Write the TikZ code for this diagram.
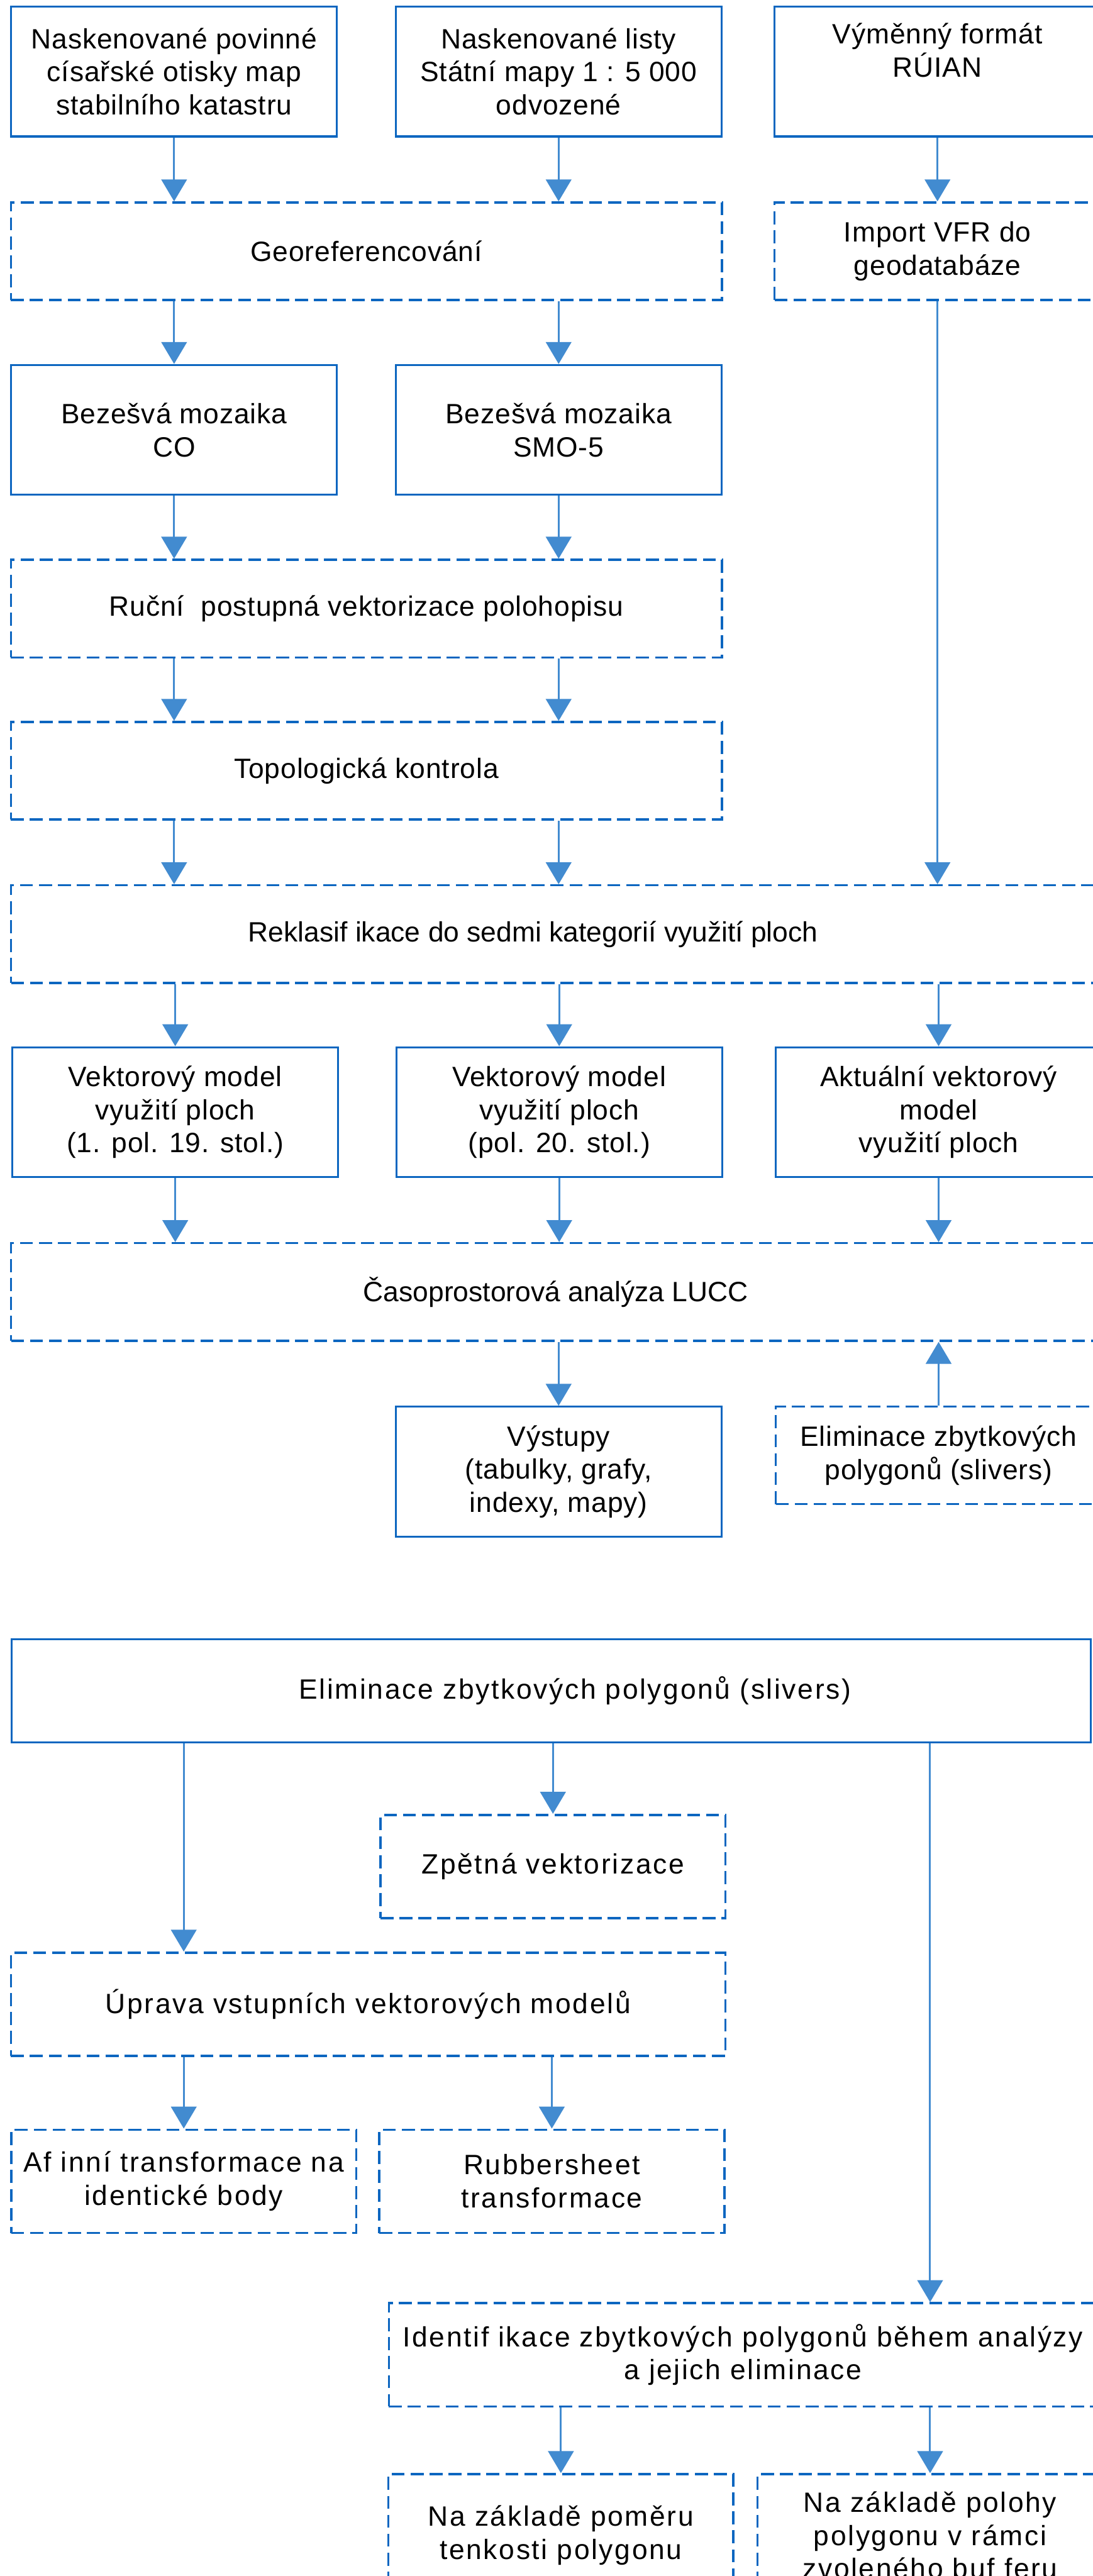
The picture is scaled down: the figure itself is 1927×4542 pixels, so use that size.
\documentclass[tikz,border=0pt]{standalone}
\usepackage{fontspec}
\setmainfont{Liberation Sans}
\newfontfamily\upperfont[LetterSpace=2]{Liberation Sans}
\newfontfamily\lowerfont[LetterSpace=6]{Liberation Sans}
\usetikzlibrary{arrows.meta}

\definecolor{boxblue}{RGB}{12,102,192}
\definecolor{arrowblue}{RGB}{66,139,208}
\newcommand{\boxsize}{\fontsize{14}{16.6}\selectfont}

\tikzset{
    solidbox/.style={draw=boxblue, line width=1pt, inner sep=2pt, align=center, font=\upperfont\boxsize},
    dashbox/.style={solidbox, line width=1.1pt, dash pattern=on 6.5pt off 3pt},
    plaintext/.style={font=\normalfont\boxsize},
    onecol/.style={minimum width=5.74cm},
    twocol/.style={minimum width=12.53cm},
    threecol/.style={minimum width=19.2cm},
    halfcol/.style={minimum width=6.08cm},
    highbox/.style={minimum height=2.29cm},
    flatbox/.style={minimum height=1.72cm},
    midbox/.style={minimum height=1.82cm},
    arr/.style={draw=arrowblue, line width=0.95pt, -{Triangle[length=11pt,width=12.8pt]}},
}

\begin{document}
\begin{tikzpicture}[x=0.01cm, y=-0.01cm]
    \useasboundingbox (0,0) rectangle (1927,4542);
    \clip (0,0) rectangle (1927,4542);

    % --- Upper scheme: sources ---
    \node[solidbox, onecol, highbox] (scan) at (307,126) {Naskenované povinné\\císařské otisky map\\stabilního katastru};
    \node[solidbox, onecol, highbox] (smo) at (985,126) {Naskenované listy\\Státní mapy 1 : 5 000\\odvozené};
    \node[solidbox, onecol, highbox] (vfr) at (1653,126) {Výměnný formát\\RÚIAN\\\strut};

    % --- Georeferencing and import ---
    \node[dashbox, twocol, flatbox] (georef) at (646,443) {Georeferencování};
    \node[dashbox, onecol, flatbox] (import) at (1653,443) {Import VFR do\\geodatabáze};

    % --- Mosaics ---
    \node[solidbox, onecol, highbox] (mozco) at (307,758) {Bezešvá mozaika\\CO};
    \node[solidbox, onecol, highbox] (mozsmo) at (985,758) {Bezešvá mozaika\\SMO-5};

    % --- Vectorisation, topology, reclassification ---
    \node[dashbox, twocol, flatbox] (vektor) at (646,1073) {Ruční\ \ postupná vektorizace polohopisu};
    \node[dashbox, twocol, flatbox] (topo) at (646,1359) {Topologická kontrola};
    \node[dashbox, threecol, flatbox, plaintext] (reklas) at (980,1647) {Reklasif ikace do sedmi kategorií využití ploch\hspace*{0.8cm}};

    % --- Land use models ---
    \node[solidbox, onecol, highbox] (modco) at (309,1961) {Vektorový model\\využití ploch\\(1. pol. 19. stol.)};
    \node[solidbox, onecol, highbox] (modsmo) at (986,1961) {Vektorový model\\využití ploch\\(pol. 20. stol.)};
    \node[solidbox, onecol, highbox] (modakt) at (1655,1961) {Aktuální vektorový\\model\\využití ploch};

    % --- Analysis and outputs ---
    \node[dashbox, threecol, flatbox, plaintext] (lucc) at (980,2278) {Časoprostorová analýza LUCC};
    \node[solidbox, onecol, highbox] (vystup) at (985,2595) {Výstupy\\(tabulky, grafy,\\indexy, mapy)};
    \node[dashbox, onecol, flatbox] (sliver) at (1655,2566) {Eliminace zbytkových\\polygonů (slivers)};

    % --- Upper scheme: connectors ---
    \draw[arr] (scan) -- (scan |- georef.north);
    \draw[arr] (smo) -- (smo |- georef.north);
    \draw[arr] (vfr) -- (import);
    \draw[arr] (georef.south -| mozco) -- (mozco);
    \draw[arr] (georef.south -| mozsmo) -- (mozsmo);
    \draw[arr] (import) -- (import |- reklas.north);
    \draw[arr] (mozco) -- (mozco |- vektor.north);
    \draw[arr] (mozsmo) -- (mozsmo |- vektor.north);
    \draw[arr] (vektor.south -| mozco) -- (topo.north -| mozco);
    \draw[arr] (vektor.south -| mozsmo) -- (topo.north -| mozsmo);
    \draw[arr] (topo.south -| mozco) -- (reklas.north -| mozco);
    \draw[arr] (topo.south -| mozsmo) -- (reklas.north -| mozsmo);
    \draw[arr] (reklas.south -| modco) -- (modco);
    \draw[arr] (reklas.south -| modsmo) -- (modsmo);
    \draw[arr] (reklas.south -| modakt) -- (modakt);
    \draw[arr] (modco) -- (modco |- lucc.north);
    \draw[arr] (modsmo) -- (modsmo |- lucc.north);
    \draw[arr] (modakt) -- (modakt |- lucc.north);
    \draw[arr] (lucc.south -| vystup) -- (vystup);
    \draw[arr] (sliver) -- (sliver |- lucc.south);

    % --- Lower scheme: sliver elimination ---
    \begin{scope}[solidbox/.append style={font=\lowerfont\boxsize}]
    \node[solidbox, minimum width=19.01cm, midbox] (elim) at (972,2981) {\hspace*{0.84cm}Eliminace zbytkových polygonů (slivers)};
    \node[dashbox, halfcol, midbox] (zpet) at (975,3291) {Zpětná vektorizace};
    \node[dashbox, minimum width=12.59cm, midbox] (uprava) at (649,3534) {Úprava vstupních vektorových modelů};
    \node[dashbox, halfcol, midbox] (afin) at (324,3846) {Af inní transformace na\\identické body};
    \node[dashbox, halfcol, midbox] (rubber) at (973,3846) {Rubbersheet\\transformace};
    \node[dashbox, minimum width=12.48cm, midbox] (ident) at (1310,4152) {Identif ikace zbytkových polygonů během analýzy\\a jejich eliminace};
    \node[dashbox, halfcol, minimum height=2.15cm] (pomer) at (989,4470) {Na základě poměru\\tenkosti polygonu};
    \node[dashbox, halfcol, minimum height=2.15cm] (poloha) at (1640,4470) {Na základě polohy\\polygonu v rámci\\zvoleného buf feru};
    \end{scope}

    % --- Lower scheme: connectors ---
    \draw[arr] (elim.south -| afin) -- (uprava.north -| afin);
    \draw[arr] (elim.south -| zpet) -- (zpet);
    \draw[arr] (elim.south -| poloha) -- (ident.north -| poloha);
    \draw[arr] (uprava.south -| afin) -- (afin);
    \draw[arr] (uprava.south -| rubber) -- (rubber);
    \draw[arr] (ident.south -| pomer) -- (pomer);
    \draw[arr] (ident.south -| poloha) -- (poloha);
\end{tikzpicture}
\end{document}
